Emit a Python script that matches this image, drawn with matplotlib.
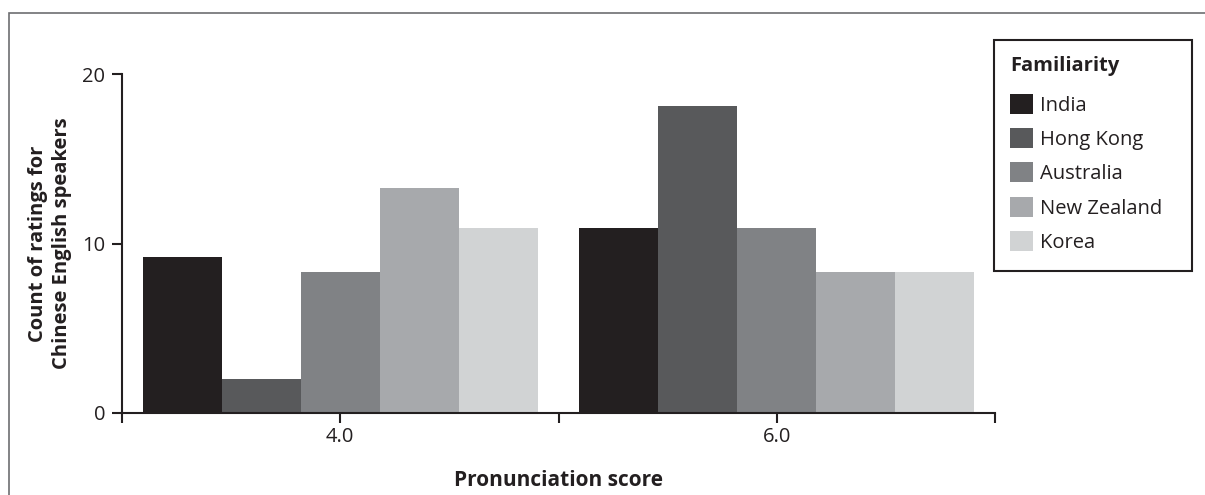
import matplotlib.pyplot as plt
import numpy as np
from matplotlib.patches import Rectangle

plt.rcParams["font.family"] = ["Open Sans", "DejaVu Sans"]

scores = ["4.0", "6.0"]
countries = ["India", "Hong Kong", "Australia", "New Zealand", "Korea"]
colors = ["#231f20", "#58595b", "#808285", "#a7a9ac", "#d1d3d4"]

# counts per country at each pronunciation score
counts = {
    "India":       [9.2, 10.9],
    "Hong Kong":   [2.0, 18.1],
    "Australia":   [8.3, 10.9],
    "New Zealand": [13.3, 8.3],
    "Korea":       [10.9, 8.3],
}

ink = "#231f20"
fs = 14.5
W, H = 1205, 495
fig = plt.figure(figsize=(W / 100, H / 100), dpi=100)
ax = fig.add_axes([122 / W, 1 - 413 / H, (995 - 122) / W, (413 - 74) / H])

x = np.arange(len(scores))
width = 0.181
for k, (name, col) in enumerate(zip(countries, colors)):
    ax.bar(x + (k - 2) * width, counts[name], width, color=col, label=name,
           linewidth=0)

ax.set_xlim(-0.5, 1.5)
ax.set_ylim(0, 20)
ax.set_yticks([0, 10, 20])
ax.set_xticks(x)
ax.set_xticklabels(scores)
ax.set_xticks([-0.5, 0.5, 1.5], minor=True)
ax.tick_params(axis="both", which="both", direction="out", length=7, width=1.5,
               colors=ink, labelsize=fs, pad=5)
ax.tick_params(axis="x", which="major", pad=3)
for s in ["top", "right"]:
    ax.spines[s].set_visible(False)
for s in ["left", "bottom"]:
    ax.spines[s].set_linewidth(1.5)
    ax.spines[s].set_color(ink)

ax.set_ylabel("Count of ratings for\nChinese English speakers", fontsize=fs,
              fontweight="bold", color=ink, labelpad=7, linespacing=1.3)
ax.set_xlabel("Pronunciation score", fontsize=15, fontweight="bold", color=ink,
              labelpad=17)

leg = ax.legend(loc="upper left", bbox_to_anchor=(994 / W, 1 - 40 / H),
                bbox_transform=fig.transFigure, borderaxespad=0,
                title="Familiarity", alignment="left", frameon=False,
                fontsize=fs,
                title_fontproperties={"weight": "bold", "size": fs},
                handlelength=1.15, handleheight=1.15, handletextpad=0.35,
                labelspacing=0.62, borderpad=0.8)
for t in leg.get_texts():
    t.set_color(ink)
leg.get_title().set_color(ink)
# a bit more room between the legend title and the first entry (points)
leg._legend_box.sep = 0.88 * fs

# legend box drawn separately so the padding can match
fig.patches.append(Rectangle((994 / W, 1 - 271 / H), (1192 - 994) / W,
                             (271 - 40) / H, transform=fig.transFigure,
                             fill=False, edgecolor=ink, linewidth=1.5))

# outer frame of the figure, cut off at right and bottom
fig.patches.append(Rectangle((9 / W, -0.1), 1.2, 1 - 13 / H + 0.1,
                             transform=fig.transFigure, fill=False,
                             edgecolor="#6d6e71", linewidth=1.2))

fig.savefig("out.png", dpi=100)
